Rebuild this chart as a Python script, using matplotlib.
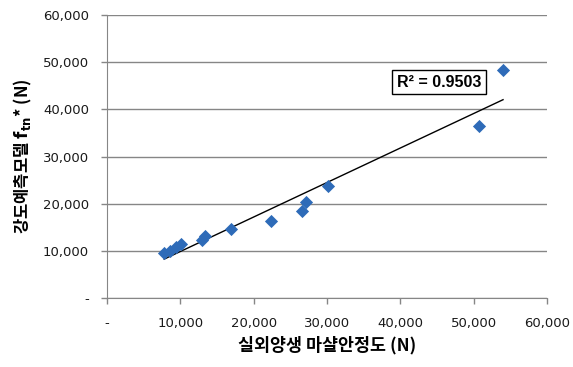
import numpy as np
import matplotlib
matplotlib.use('Agg')
import matplotlib.pyplot as plt
from matplotlib.ticker import FuncFormatter

# 실외양생 마샬안정도 vs 강도예측모델 값 (N)
x_vals = [7800, 8600, 9400, 10100, 13000, 13400, 16900, 22400, 26600, 27100, 30100, 50700, 54000]
y_vals = [9500, 10000, 10800, 11400, 12300, 13100, 14600, 16300, 18400, 20400, 23700, 36500, 48300]
ticks = [0, 10000, 20000, 30000, 40000, 50000, 60000]
r2_text = 'R² = 0.9503'

plt.rcParams['font.family'] = ['Noto Sans CJK KR', 'DejaVu Sans']

fig = plt.figure(figsize=(5.73, 3.67), dpi=100)
ax = fig.add_axes([0.1867, 0.188, 0.768, 0.771])

ax.scatter(x_vals, y_vals, marker='D', s=45, color='#2E6BB8', zorder=3, linewidths=0)

# linear trendline
coef = np.polyfit(x_vals, y_vals, 1)
xl = np.array([min(x_vals), max(x_vals)])
ax.plot(xl, np.polyval(coef, xl), color='black', lw=1, zorder=2)

ax.set_xlim(0, 60000)
ax.set_ylim(0, 60000)
ax.set_xticks(ticks)
ax.set_yticks(ticks)
fmt = FuncFormatter(lambda v, p: '-' if v == 0 else f'{int(v):,}')
ax.xaxis.set_major_formatter(fmt)
ax.yaxis.set_major_formatter(fmt)
for lab in ax.get_xticklabels() + ax.get_yticklabels():
    lab.set_family('DejaVu Sans')
ax.tick_params(axis='both', labelsize=9.5, colors='#868686', labelcolor='#1a1a1a', length=4, width=1)
ax.tick_params(axis='x', pad=10)
ax.tick_params(axis='y', pad=9)

ax.yaxis.grid(True, color='#868686', lw=1)
ax.set_axisbelow(True)
for s in ['top', 'right']:
    ax.spines[s].set_visible(False)
for s in ['left', 'bottom']:
    ax.spines[s].set_color('#868686')

ax.set_xlabel('실외양생 마샬안정도 (N)', fontsize=12.5, fontweight='bold', labelpad=4)
ax.set_ylabel('강도예측모델 $\\mathbf{f_{tn}}$* (N)', fontsize=12, fontweight='bold', labelpad=6)

ax.text(45300, 45800, r2_text, fontsize=11.5, fontweight='bold', va='center', ha='center',
        family=['Liberation Sans', 'DejaVu Sans'],
        bbox=dict(boxstyle='square,pad=0.3', fc='white', ec='black', lw=1))

fig.savefig('out.png', dpi=100)
